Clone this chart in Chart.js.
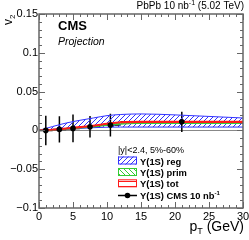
<!DOCTYPE html>
<html><head><meta charset="utf-8">
<script src="https://cdn.jsdelivr.net/npm/chart.js@4"></script>
<style>html,body{margin:0;padding:0;background:#fff}#wrap{width:249px;height:240px;position:relative}</style>
</head><body><div id="wrap"><canvas id="c" width="249" height="240"></canvas></div>
<script>
// ---- data ----
const cmsPt     = [1, 3, 5, 7.5, 10.5, 21];
const cmsPtLow  = [0, 2, 4, 6, 9, 12];
const cmsPtHigh = [2, 4, 6, 9, 12, 30];
const cmsV2     = [0.0, 0.0013, 0.0026, 0.0047, 0.0068, 0.011];
const cmsV2Err  = [0.019, 0.017, 0.018, 0.014, 0.0146, 0.013];

const modelPt   = [0, 2, 4, 6, 8, 10, 12, 15, 20, 25, 30];
const regLow    = [0, 0.0005, 0.0015, 0.0025, 0.0035, 0.0041, 0.0043, 0.0043, 0.0043, 0.0043, 0.0043];
const regHigh   = [0, 0.005, 0.0095, 0.013, 0.016, 0.019, 0.0205, 0.0212, 0.0200, 0.0180, 0.0160];
const primLow   = [0, 0.0004, 0.0015, 0.003, 0.0045, 0.0065, 0.008, 0.009, 0.009, 0.009, 0.009];
const primHigh  = [0, 0.0012, 0.0025, 0.004, 0.0055, 0.0075, 0.009, 0.0098, 0.0098, 0.0098, 0.0098];
const totLow    = [0, 0.0006, 0.002, 0.0037, 0.0055, 0.008, 0.01, 0.0105, 0.0105, 0.0105, 0.0105];
const totHigh   = [0, 0.0014, 0.003, 0.0047, 0.0065, 0.009, 0.011, 0.0115, 0.0115, 0.0115, 0.0115];

const xTickStep = 5, yTickStep = 0.05;
const xMin = 0, xMax = 30, yMin = -0.1, yMax = 0.15;

const FONT = '"Liberation Sans", Arial, Helvetica, sans-serif';
const ctx0 = document.getElementById('c').getContext('2d');

function hatch(color, type) {
  const n = 5;
  const c = document.createElement('canvas');
  c.width = n; c.height = n;
  const g = c.getContext('2d');
  g.strokeStyle = color; g.lineWidth = 1;
  g.beginPath();
  if (type === '/') {
    g.moveTo(0, n); g.lineTo(n, 0);
    g.moveTo(-1, 1); g.lineTo(1, -1);
    g.moveTo(n - 1, n + 1); g.lineTo(n + 1, n - 1);
  } else if (type === '\\') {
    g.moveTo(0, 0); g.lineTo(n, n);
    g.moveTo(-1, n - 1); g.lineTo(1, n + 1);
    g.moveTo(n - 1, -1); g.lineTo(n + 1, 1);
  } else {
    g.moveTo(0, 1.5); g.lineTo(n, 1.5);
  }
  g.stroke();
  return ctx0.createPattern(c, 'repeat');
}
const blue = '#3333ff', green = '#33cc33', red = '#ff1a1a';
const bluePat = hatch(blue, '/'), greenPat = hatch(green, '\\'), redPat = hatch(red, '-');

const pts = (xs, ys) => xs.map((x, i) => ({x, y: ys[i]}));
const band = (lo, hi, col, pat, ord, bw) => [
  {data: pts(modelPt, lo), borderColor: col, borderWidth: bw, pointRadius: 0, fill: false, cubicInterpolationMode: 'monotone', order: ord},
  {data: pts(modelPt, hi), borderColor: col, borderWidth: bw, pointRadius: 0, fill: '-1', backgroundColor: pat, cubicInterpolationMode: 'monotone', order: ord}
];

const fmt = v => {
  const r = Math.round(v * 100) / 100;
  if (Math.abs(r) < 1e-9) return '0';
  return (r < 0 ? '\u2212' : '') + String(Math.abs(r));
};

const deco = {
  id: 'deco',
  beforeDatasetsDraw(chart) {
    const {ctx, chartArea: a, scales: {x, y}} = chart;
    ctx.save();
    // zero line
    ctx.strokeStyle = '#888'; ctx.lineWidth = 1;
    const y0 = Math.round(y.getPixelForValue(0)) + 0.5;
    ctx.beginPath(); ctx.moveTo(a.left, y0); ctx.lineTo(a.right, y0); ctx.stroke();
    // CMS error bars
    ctx.strokeStyle = '#000'; ctx.lineWidth = 1.5;
    cmsPt.forEach((p, i) => {
      const px = x.getPixelForValue(p), py = y.getPixelForValue(cmsV2[i]);
      ctx.beginPath();
      ctx.moveTo(px, y.getPixelForValue(cmsV2[i] - cmsV2Err[i]));
      ctx.lineTo(px, y.getPixelForValue(cmsV2[i] + cmsV2Err[i]));
      ctx.moveTo(x.getPixelForValue(cmsPtLow[i]), py);
      ctx.lineTo(x.getPixelForValue(cmsPtHigh[i]), py);
      ctx.stroke();
    });
    ctx.restore();
  },
  afterDraw(chart) {
    const {ctx, chartArea: a, scales: {x, y}} = chart;
    ctx.save();
    // frame
    ctx.strokeStyle = '#666'; ctx.lineWidth = 1.5;
    ctx.strokeRect(a.left, a.top, a.right - a.left, a.bottom - a.top);
    ctx.lineWidth = 1;
    ctx.beginPath();
    for (let v = xMin; v <= xMax + 1e-9; v += 1) {
      const px = Math.round(x.getPixelForValue(v)) + 0.5;
      const L = (Math.abs(v % xTickStep) < 1e-9) ? 6 : 3;
      ctx.moveTo(px, a.bottom); ctx.lineTo(px, a.bottom - L);
      ctx.moveTo(px, a.top); ctx.lineTo(px, a.top + L);
    }
    for (let k = 0; k <= 25; k++) {
      const v = yMin + k * 0.01;
      const py = Math.round(y.getPixelForValue(v)) + 0.5;
      const L = (k % 5 === 0) ? 6 : 3;
      ctx.moveTo(a.left, py); ctx.lineTo(a.left + L, py);
      ctx.moveTo(a.right, py); ctx.lineTo(a.right - L, py);
    }
    ctx.stroke();

    ctx.fillStyle = '#000';
    ctx.textBaseline = 'alphabetic';
    // top label
    const t1 = 'PbPb 10 nb', t2 = '(5.02 TeV)';
    ctx.font = '7px ' + FONT; const wsup = ctx.measureText('-1').width;
    ctx.font = '10px ' + FONT;
    const w1 = ctx.measureText(t1).width, w2 = ctx.measureText(' ' + t2).width;
    let sx = 244 - (w1 + wsup + w2);
    ctx.fillText(t1, sx, 9); sx += w1;
    ctx.font = '7px ' + FONT; ctx.fillText('-1', sx, 5); sx += wsup;
    ctx.font = '10px ' + FONT; ctx.fillText(' ' + t2, sx, 9);

    // CMS
    ctx.font = 'bold 13px ' + FONT; ctx.fillText('CMS', 58, 30);
    ctx.font = 'italic 10.5px ' + FONT; ctx.fillText('Projection', 58, 44.5);

    // y title
    ctx.save();
    ctx.translate(12, 25); ctx.rotate(-Math.PI / 2);
    ctx.font = '12px ' + FONT; ctx.fillText('v', 0, 0);
    const wv = ctx.measureText('v').width;
    ctx.font = '8px ' + FONT; ctx.fillText('2', wv, 3);
    ctx.restore();

    // x title
    ctx.font = '14px ' + FONT;
    const wp = ctx.measureText('p').width, wg = ctx.measureText(' (GeV)').width;
    ctx.font = '9px ' + FONT; const wT = ctx.measureText('T').width;
    let tx = 244 - (wp + wT + wg);
    ctx.font = '14px ' + FONT; ctx.fillText('p', tx, 231); tx += wp;
    ctx.font = '9px ' + FONT; ctx.fillText('T', tx, 234); tx += wT;
    ctx.font = '14px ' + FONT; ctx.fillText(' (GeV)', tx, 231);

    // legend
    ctx.font = '9px ' + FONT; ctx.fillText('|y|<2.4, 5%-60%', 118, 153);
    const entries = [
      {t: '\u03A5(1S) reg', c: blue, p: bluePat, yb: 164.5},
      {t: '\u03A5(1S) prim', c: green, p: greenPat, yb: 176},
      {t: '\u03A5(1S) tot', c: red, p: redPat, yb: 187.3}
    ];
    entries.forEach(e => {
      ctx.fillStyle = e.p; ctx.fillRect(118, e.yb - 8, 19, 8);
      ctx.strokeStyle = e.c; ctx.lineWidth = 1; ctx.strokeRect(118.5, e.yb - 7.5, 18, 7);
      ctx.fillStyle = '#000'; ctx.font = 'bold 9.4px ' + FONT; ctx.fillText(e.t, 140, e.yb);
    });
    ctx.strokeStyle = '#000'; ctx.lineWidth = 1.5;
    ctx.beginPath(); ctx.moveTo(118, 195.5); ctx.lineTo(137, 195.5); ctx.stroke();
    ctx.beginPath(); ctx.arc(127.5, 195.5, 2.8, 0, Math.PI * 2); ctx.fill();
    ctx.font = 'bold 9.4px ' + FONT;
    const c1 = '\u03A5(1S) CMS 10 nb'; ctx.fillText(c1, 140, 198.6);
    const wc = ctx.measureText(c1).width;
    ctx.font = 'bold 6px ' + FONT; ctx.fillText('-1', 140 + wc, 194.5);
    ctx.restore();
  }
};

new Chart(ctx0, {
  type: 'line',
  data: {
    datasets: [
      ...band(regLow, regHigh, blue, bluePat, 3, 1),
      ...band(primLow, primHigh, green, greenPat, 2, 1),
      ...band(totLow, totHigh, red, redPat, 1, 1.3),
      {data: pts(cmsPt, cmsV2), showLine: false, pointRadius: 2.8, pointBackgroundColor: '#000', pointBorderColor: '#000', pointBorderWidth: 0, order: 0}
    ]
  },
  options: {
    responsive: false, animation: false, devicePixelRatio: 1,
    layout: {padding: {top: 14, right: 6, left: 0, bottom: 0}},
    plugins: {legend: {display: false}, tooltip: {enabled: false}},
    scales: {
      x: {type: 'linear', min: xMin, max: xMax,
          grid: {display: false, drawTicks: false}, border: {display: false},
          ticks: {stepSize: xTickStep, color: '#000', font: {family: FONT, size: 11}, padding: 2, maxRotation: 0, autoSkip: false},
          afterFit: s => { s.height = 32; s.paddingLeft = 0; s.paddingRight = 0; }},
      y: {type: 'linear', min: yMin, max: yMax,
          grid: {display: false, drawTicks: false}, border: {display: false},
          ticks: {stepSize: yTickStep, color: '#000', font: {family: FONT, size: 11}, padding: 1, callback: fmt},
          afterFit: s => { s.width = 39; s.paddingTop = 0; s.paddingBottom = 0; }}
    }
  },
  plugins: [deco]
});
</script></body></html>
